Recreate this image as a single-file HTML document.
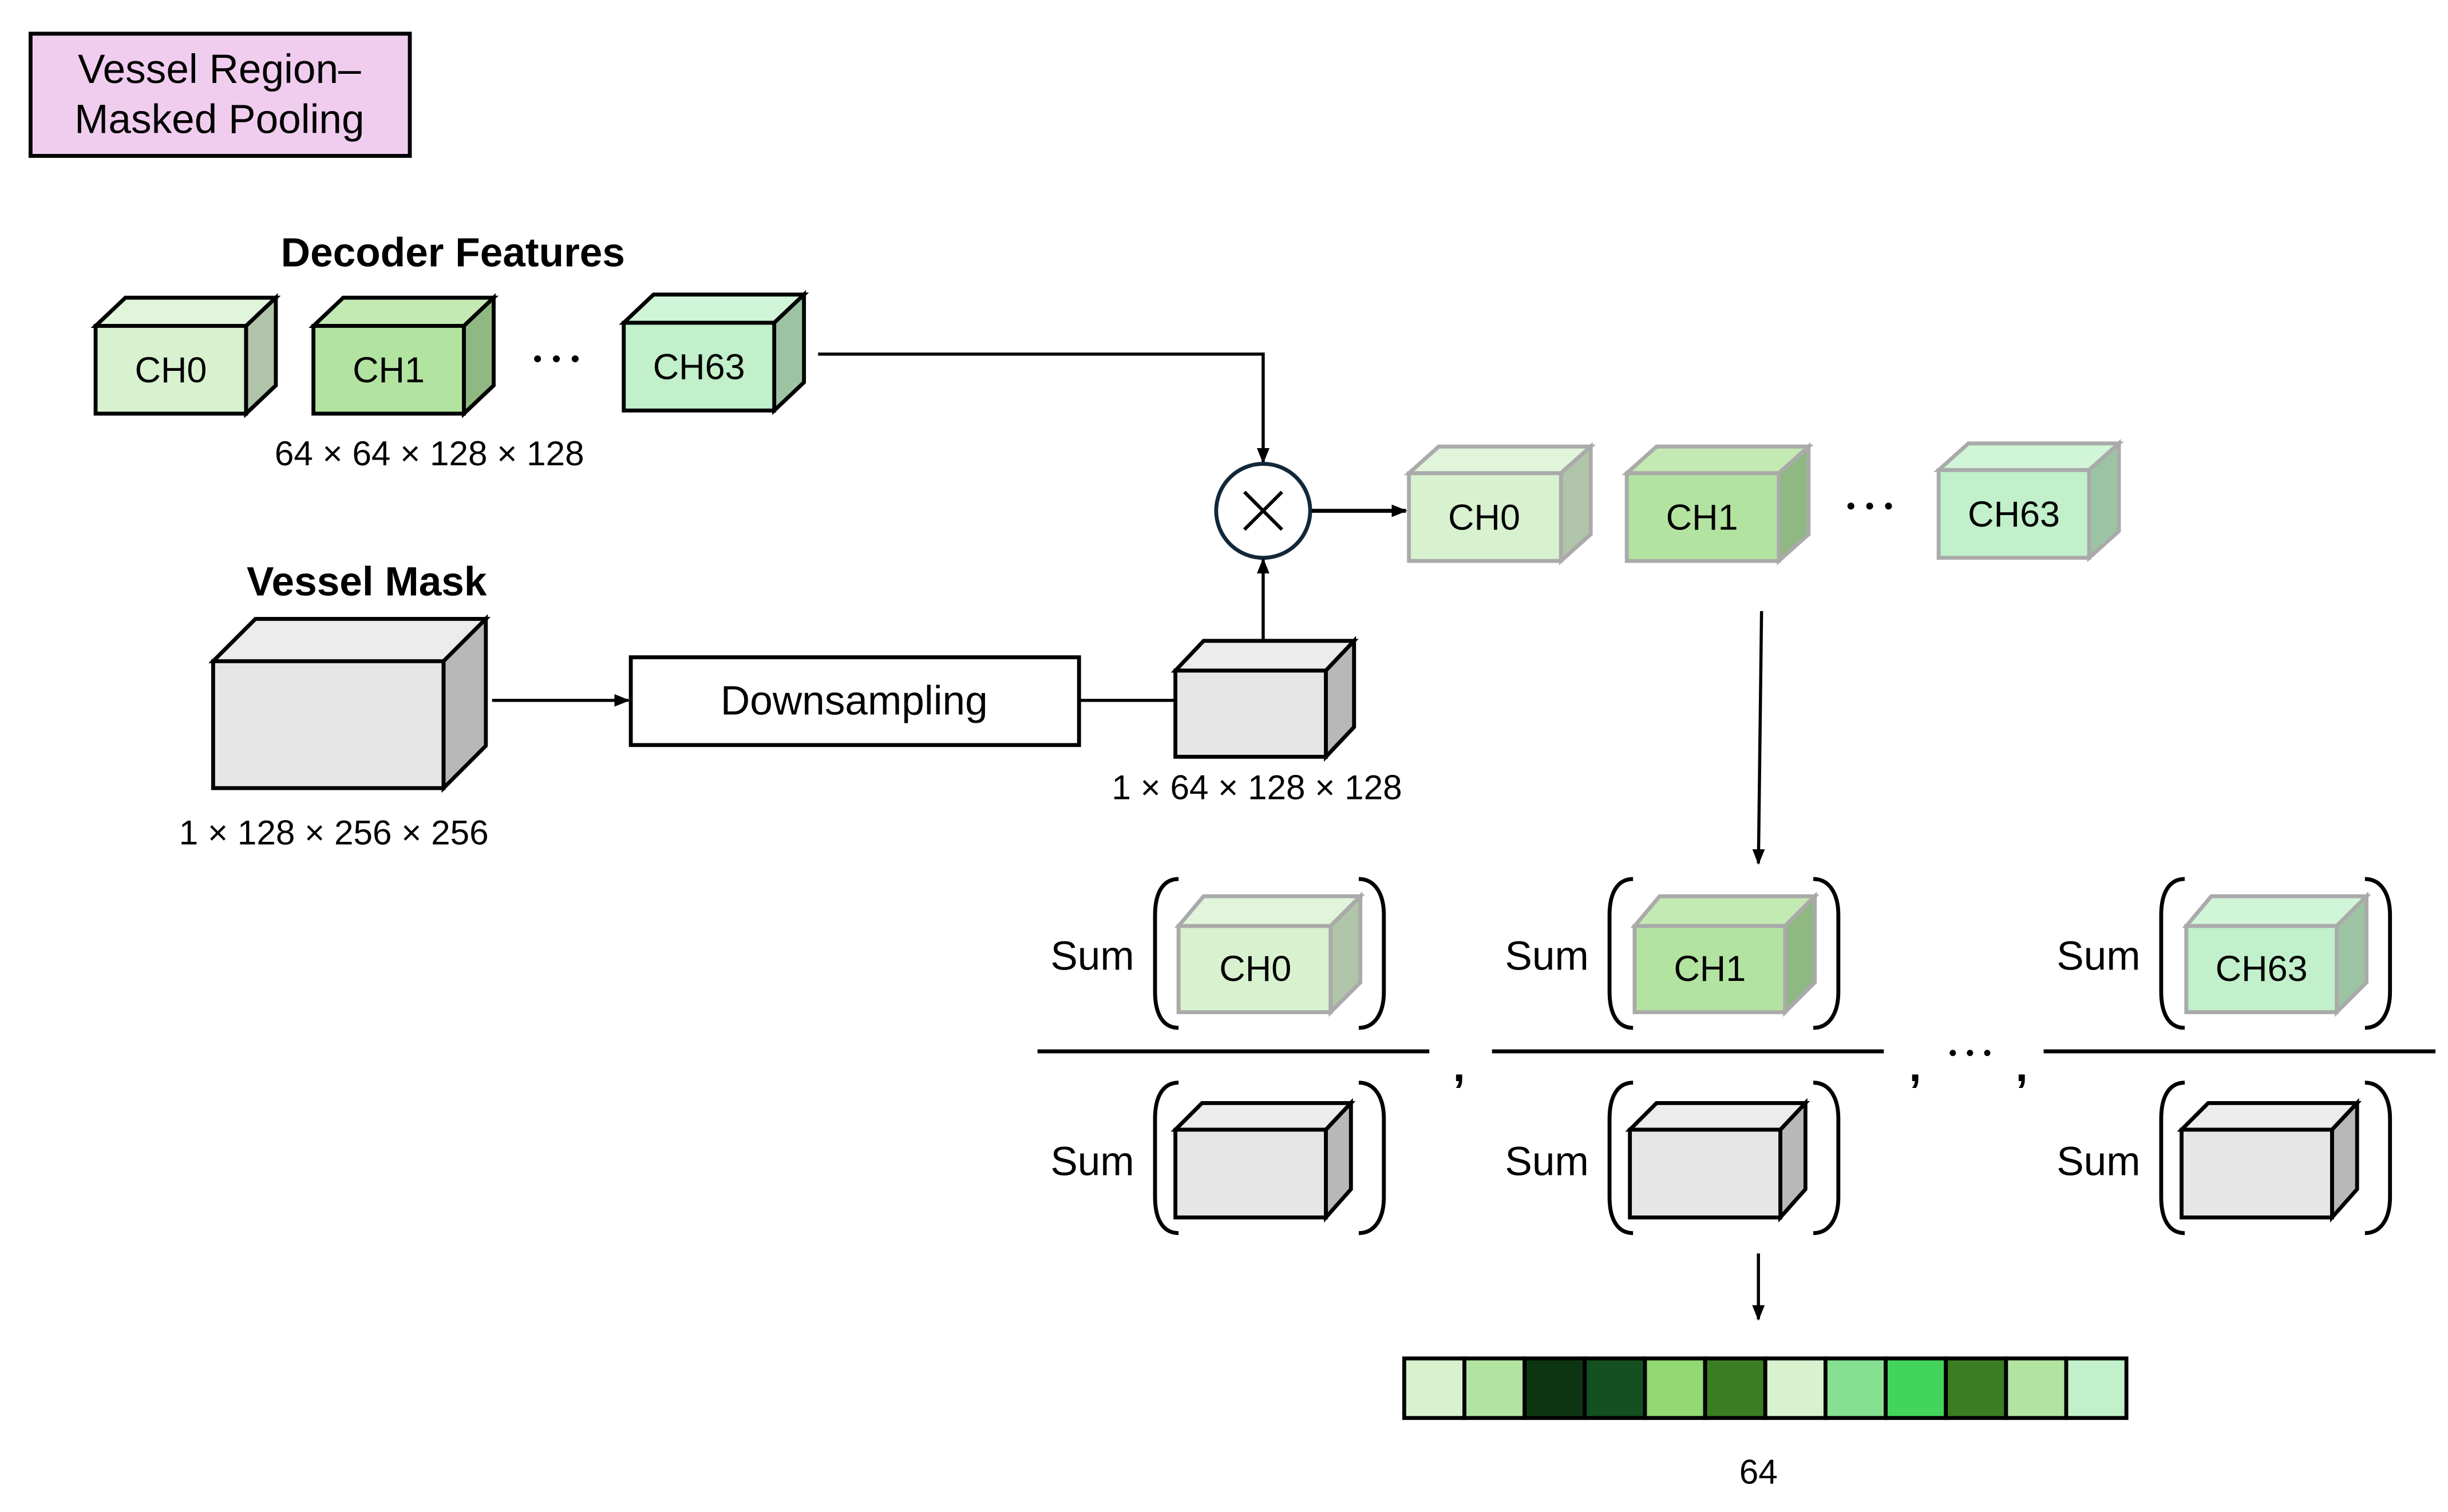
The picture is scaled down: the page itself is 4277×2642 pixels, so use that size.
<!DOCTYPE html>
<html><head><meta charset="utf-8"><style>
html,body{margin:0;padding:0;background:#fff;}
svg{display:block;}
text{font-family:"Liberation Sans Narrow","Liberation Sans",sans-serif;fill:#000;}
</style></head><body>
<svg width="4277" height="2642" viewBox="0 0 1562 965" preserveAspectRatio="none" xmlns="http://www.w3.org/2000/svg">
<defs>
<marker id="ah" markerWidth="10" markerHeight="10" refX="9" refY="5" orient="auto" markerUnits="userSpaceOnUse"><path d="M0,1 L10,5 L0,9 Z" fill="#000"/></marker>
</defs>
<rect x="19.5" y="21.5" width="242" height="78" fill="#f0cdee" stroke="#000" stroke-width="2.5"/>
<text x="140" y="53" font-size="26" text-anchor="middle">Vessel Region–</text>
<text x="140" y="85" font-size="26" text-anchor="middle">Masked Pooling</text>

<text x="289" y="170" font-size="26" font-weight="bold" text-anchor="middle">Decoder Features</text>

<g stroke="#000" stroke-width="2.5">
<polygon points="61,208 80,190 176,190 157,208" fill="#e0f5da"/><polygon points="157,208 176,190 176,246 157,264" fill="#afc4a8"/><rect x="61" y="208" width="96" height="56" fill="#d8f2d0"/>
<polygon points="200,208 219,190 315,190 296,208" fill="#c3eab3"/><polygon points="296,208 315,190 315,246 296,264" fill="#8fb882"/><rect x="200" y="208" width="96" height="56" fill="#b3e3a0"/>
<polygon points="398,206 417,188 513,188 494,206" fill="#d0f5d7"/><polygon points="494,206 513,188 513,244 494,262" fill="#9cc4a2"/><rect x="398" y="206" width="96" height="56" fill="#c1f0ca"/>
</g>
<text x="109" y="244" font-size="23" text-anchor="middle">CH0</text>
<text x="248" y="244" font-size="23" text-anchor="middle">CH1</text>
<text x="446" y="242" font-size="23" text-anchor="middle">CH63</text>
<g fill="#000"><circle cx="343" cy="229" r="2.2"/><circle cx="355" cy="229" r="2.2"/><circle cx="367" cy="229" r="2.2"/>
<circle cx="1181" cy="323" r="2.2"/><circle cx="1193" cy="323" r="2.2"/><circle cx="1205" cy="323" r="2.2"/>
<circle cx="1246" cy="672" r="2"/><circle cx="1257" cy="672" r="2"/><circle cx="1268" cy="672" r="2"/></g>
<text x="274" y="297" font-size="22" text-anchor="middle">64 × 64 × 128 × 128</text>

<polyline points="522,226 806,226 806,295" fill="none" stroke="#000" stroke-width="2" marker-end="url(#ah)"/>
<circle cx="806" cy="326" r="30" fill="#fff" stroke="#12283a" stroke-width="2.5"/>
<path d="M794,314 L818,338 M818,314 L794,338" stroke="#000" stroke-width="2.2"/>
<line x1="837" y1="326" x2="897" y2="326" stroke="#000" stroke-width="2.5" marker-end="url(#ah)"/>
<line x1="806" y1="408" x2="806" y2="357" stroke="#000" stroke-width="2" marker-end="url(#ah)"/>

<g stroke="#aaa" stroke-width="2.5">
<polygon points="899,302 918,285 1015,285 996,302" fill="#e0f5da"/><polygon points="996,302 1015,285 1015,341 996,358" fill="#afc4a8"/><rect x="899" y="302" width="97" height="56" fill="#d8f2d0"/>
<polygon points="1038,302 1057,285 1154,285 1135,302" fill="#c3eab3"/><polygon points="1135,302 1154,285 1154,341 1135,358" fill="#8fb882"/><rect x="1038" y="302" width="97" height="56" fill="#b3e3a0"/>
<polygon points="1237,300 1256,283 1352,283 1333,300" fill="#d0f5d7"/><polygon points="1333,300 1352,283 1352,339 1333,356" fill="#9cc4a2"/><rect x="1237" y="300" width="96" height="56" fill="#c1f0ca"/>
</g>
<text x="947" y="338" font-size="23" text-anchor="middle">CH0</text>
<text x="1086" y="338" font-size="23" text-anchor="middle">CH1</text>
<text x="1285" y="336" font-size="23" text-anchor="middle">CH63</text>

<text x="234" y="380" font-size="26" font-weight="bold" text-anchor="middle">Vessel Mask</text>
<g stroke="#000" stroke-width="2.5">
<polygon points="136,422 163,395 310,395 283,422" fill="#ececec"/><polygon points="283,422 310,395 310,476 283,503" fill="#b8b8b8"/><rect x="136" y="422" width="147" height="81" fill="#e6e6e6"/>
</g>
<text x="213" y="539" font-size="22" text-anchor="middle">1 × 128 × 256 × 256</text>
<line x1="314" y1="447" x2="401" y2="447" stroke="#000" stroke-width="2" marker-end="url(#ah)"/>
<rect x="402.5" y="419.5" width="286" height="56" fill="#fff" stroke="#000" stroke-width="2.5"/>
<text x="545" y="456" font-size="26" text-anchor="middle">Downsampling</text>
<line x1="688" y1="447" x2="750" y2="447" stroke="#000" stroke-width="2"/>
<g stroke="#000" stroke-width="2.5">
<polygon points="750,428 768,409 864,409 846,428" fill="#ececec"/><polygon points="846,428 864,409 864,464 846,483" fill="#b8b8b8"/><rect x="750" y="428" width="96" height="55" fill="#e6e6e6"/>
</g>
<text x="802" y="510" font-size="22" text-anchor="middle">1 × 64 × 128 × 128</text>

<line x1="1124" y1="390" x2="1122" y2="551" stroke="#000" stroke-width="2" marker-end="url(#ah)"/>

<g id="g1">
<text x="697" y="619" font-size="26" text-anchor="middle">Sum</text>
<text x="697" y="750" font-size="26" text-anchor="middle">Sum</text>
<path d="M752,561 C742,561 737,570 737,584 L737,633 C737,647 742,656 752,656" fill="none" stroke="#000" stroke-width="2.5"/>
<path d="M867,561 C877,561 883,570 883,584 L883,633 C883,647 877,656 867,656" fill="none" stroke="#000" stroke-width="2.5"/>
<path d="M752,691 C742,691 737,700 737,714 L737,764 C737,778 742,787 752,787" fill="none" stroke="#000" stroke-width="2.5"/>
<path d="M867,691 C877,691 883,700 883,714 L883,764 C883,778 877,787 867,787" fill="none" stroke="#000" stroke-width="2.5"/>
<g stroke="#000" stroke-width="2.5">
<polygon points="750,721 767,704 862,704 846,721" fill="#ececec"/><polygon points="846,721 862,704 862,759 846,777" fill="#b8b8b8"/><rect x="750" y="721" width="96" height="56" fill="#e6e6e6"/>
</g>
<line x1="662" y1="671" x2="912" y2="671" stroke="#000" stroke-width="2.5"/>
</g>
<use href="#g1" x="290"/>
<use href="#g1" x="642"/>
<g stroke="#aaa" stroke-width="2.5">
<polygon points="752,591 768,572 868,572 849,591" fill="#e0f5da"/><polygon points="849,591 868,572 868,627 849,646" fill="#afc4a8"/><rect x="752" y="591" width="97" height="55" fill="#d8f2d0"/>
<polygon points="1043,591 1059,572 1158,572 1139,591" fill="#c3eab3"/><polygon points="1139,591 1158,572 1158,627 1139,646" fill="#8fb882"/><rect x="1043" y="591" width="96" height="55" fill="#b3e3a0"/>
<polygon points="1395,591 1411,572 1510,572 1491,591" fill="#d0f5d7"/><polygon points="1491,591 1510,572 1510,627 1491,646" fill="#9cc4a2"/><rect x="1395" y="591" width="96" height="55" fill="#c1f0ca"/>
</g>
<text x="801" y="626" font-size="23" text-anchor="middle">CH0</text>
<text x="1091" y="626" font-size="23" text-anchor="middle">CH1</text>
<text x="1443" y="626" font-size="23" text-anchor="middle">CH63</text>
<text x="931" y="690" font-size="28" font-weight="bold" text-anchor="middle">,</text>
<text x="1222" y="690" font-size="28" font-weight="bold" text-anchor="middle">,</text>
<text x="1290" y="690" font-size="28" font-weight="bold" text-anchor="middle">,</text>

<line x1="1122" y1="800" x2="1122" y2="842" stroke="#000" stroke-width="2" marker-end="url(#ah)"/>

<g stroke="#000" stroke-width="2.5">
<rect x="896" y="867" width="38.4" height="38" fill="#d8f2d0"/>
<rect x="934.4" y="867" width="38.4" height="38" fill="#b3e3a0"/>
<rect x="972.8" y="867" width="38.4" height="38" fill="#0e3512"/>
<rect x="1011.2" y="867" width="38.4" height="38" fill="#145020"/>
<rect x="1049.6" y="867" width="38.4" height="38" fill="#92d873"/>
<rect x="1088" y="867" width="38.4" height="38" fill="#3b7d22"/>
<rect x="1126.4" y="867" width="38.4" height="38" fill="#d8f2d0"/>
<rect x="1164.8" y="867" width="38.4" height="38" fill="#86e092"/>
<rect x="1203.2" y="867" width="38.4" height="38" fill="#43d45c"/>
<rect x="1241.6" y="867" width="38.4" height="38" fill="#3b7d22"/>
<rect x="1280" y="867" width="38.4" height="38" fill="#b3e3a0"/>
<rect x="1318.4" y="867" width="38.4" height="38" fill="#c1f0ca"/>
</g>
<text x="1122" y="947" font-size="22" text-anchor="middle">64</text>
</svg>
</body></html>
